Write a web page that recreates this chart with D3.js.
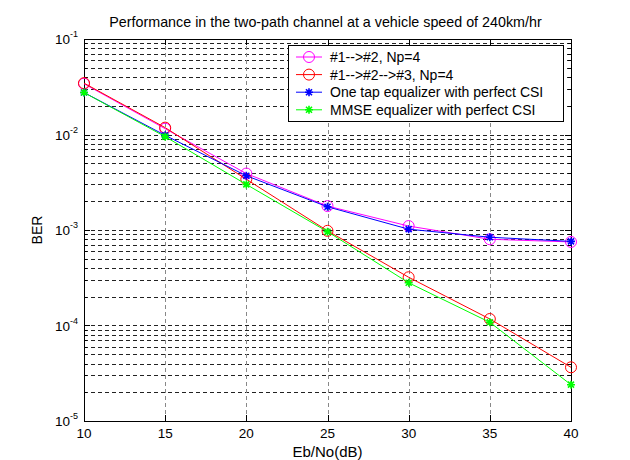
<!DOCTYPE html>
<html>
<head>
<meta charset="utf-8">
<script src="https://cdn.jsdelivr.net/npm/d3@7"></script>
<style>
  body { margin: 0; background: #fff; }
  text { font-family: "Liberation Sans", Arial, sans-serif; fill: #000; }
</style>
</head>
<body>
<div id="chart"></div>
<script>
// values
let ebno = [10, 15, 20, 25, 30, 35, 40];
let np4Two = [0.034, 0.0115, 0.0039, 0.00178, 0.00110, 0.00080, 0.00075];
let np4Three = [0.0345, 0.0118, 0.0034, 0.00098, 0.00032, 0.000117, 0.0000365];
let oneTap = [0.0275, 0.0098, 0.0037, 0.00175, 0.00102, 0.00084, 0.00076];
let mmse = [0.0275, 0.0095, 0.0030, 0.00096, 0.00028, 0.000108, 0.000024];
let xTicks = [10, 15, 20, 25, 30, 35, 40];
let yDecades = [-1, -2, -3, -4, -5];
let seriesNames = ["#1-->#2, Np=4", "#1-->#2-->#3, Np=4",
  "One tap equalizer with perfect CSI", "MMSE equalizer with perfect CSI"];
let seriesColors = ["#ff00ff", "#ff0000", "#0000ff", "#00ff00"];
let seriesMarkers = ["circle", "circle", "star", "star"];
let seriesData = [np4Two, np4Three, oneTap, mmse];

const W = 630, H = 460;
const pLeft = 84, pRight = 571, pTop = 39, pBottom = 421;

let svg = d3.select('#chart').append('svg')
  .attr('width', W)
  .attr('height', H);

let x = d3.scaleLinear().domain([10, 40]).range([pLeft, pRight]);
let y = d3.scaleLog().domain([1e-5, 1e-1]).range([pBottom, pTop]);

// minor + major y values
let yAll = [];
for (let e = -5; e < -1; e++) {
  for (let m = 1; m <= 9; m++) yAll.push({v: m * Math.pow(10, e), major: m == 1});
}
yAll.push({v: 1e-1, major: true});

let grid = svg.append('g');
// horizontal grid (skip frame edges)
grid.selectAll('line.hg')
  .data(yAll.filter(d => d.v > 1.5e-5 && d.v < 0.095))
  .enter().append('line')
  .attr('x1', pLeft).attr('x2', pRight)
  .attr('y1', d => Math.round(y(d.v)) + 0.5)
  .attr('y2', d => Math.round(y(d.v)) + 0.5)
  .attr('stroke', '#222')
  .attr('stroke-dasharray', '4,3');
// vertical grid
grid.selectAll('line.vg')
  .data(xTicks.slice(1, -1))
  .enter().append('line')
  .attr('x1', d => Math.round(x(d)) + 0.5)
  .attr('x2', d => Math.round(x(d)) + 0.5)
  .attr('y1', pTop).attr('y2', pBottom)
  .attr('stroke', '#888')
  .attr('stroke-dasharray', '4,3');

// ticks on all four sides, pointing in
let ticks = svg.append('g').attr('stroke', '#000');
yAll.forEach(d => {
  let len = d.major ? 6 : 3;
  let yy = Math.round(y(d.v)) + 0.5;
  ticks.append('line').attr('x1', pLeft).attr('x2', pLeft + len).attr('y1', yy).attr('y2', yy);
  ticks.append('line').attr('x1', pRight).attr('x2', pRight - len).attr('y1', yy).attr('y2', yy);
});
xTicks.forEach(v => {
  let xx = Math.round(x(v)) + 0.5;
  ticks.append('line').attr('x1', xx).attr('x2', xx).attr('y1', pBottom).attr('y2', pBottom - 6);
  ticks.append('line').attr('x1', xx).attr('x2', xx).attr('y1', pTop).attr('y2', pTop + 6);
});

// frame
svg.append('rect')
  .attr('x', pLeft + 0.5).attr('y', pTop + 0.5)
  .attr('width', pRight - pLeft).attr('height', pBottom - pTop)
  .attr('fill', 'none')
  .attr('stroke', '#000');

// x tick labels
svg.selectAll('text.xt')
  .data(xTicks)
  .enter().append('text')
  .attr('x', d => x(d))
  .attr('y', pBottom + 17)
  .attr('text-anchor', 'middle')
  .attr('font-size', 13.5)
  .text(d => d);

// y tick labels 10^e
yDecades.forEach(e => {
  let t = svg.append('text')
    .attr('x', pLeft - 6)
    .attr('y', y(Math.pow(10, e)) + 5)
    .attr('text-anchor', 'end')
    .attr('font-size', 13.5);
  t.append('tspan').text('10');
  t.append('tspan').attr('dy', -7).attr('font-size', 9).text(e);
});

// axis labels + title
svg.append('text')
  .attr('x', (pLeft + pRight) / 2)
  .attr('y', 457)
  .attr('text-anchor', 'middle')
  .attr('font-size', 15)
  .text('Eb/No(dB)');
svg.append('text')
  .attr('transform', 'translate(42,' + (pTop + pBottom) / 2 + ') rotate(-90)')
  .attr('text-anchor', 'middle')
  .attr('font-size', 14)
  .text('BER');
svg.append('text')
  .attr('x', (pLeft + pRight) / 2 - 2)
  .attr('y', 27)
  .attr('text-anchor', 'middle')
  .attr('font-size', 14.3)
  .text('Performance in the two-path channel at a vehicle speed of 240km/hr');

function drawMarker(g, kind, color, cx, cy) {
  if (kind == 'circle') {
    g.append('circle')
      .attr('cx', cx).attr('cy', cy).attr('r', 5.5)
      .attr('fill', 'none')
      .attr('stroke', color)
      .attr('stroke-width', 1);
  } else {
    let s = 4;
    g.append('path')
      .attr('d', 'M' + (cx - s) + ',' + cy + 'L' + (cx + s) + ',' + cy +
        'M' + cx + ',' + (cy - s) + 'L' + cx + ',' + (cy + s) +
        'M' + (cx - 3) + ',' + (cy - 3) + 'L' + (cx + 3) + ',' + (cy + 3) +
        'M' + (cx - 3) + ',' + (cy + 3) + 'L' + (cx + 3) + ',' + (cy - 3))
      .attr('stroke', color)
      .attr('stroke-width', 1.6)
      .attr('fill', 'none');
  }
}

let line = d3.line()
  .x(d => x(d[0]))
  .y(d => y(d[1]));

seriesData.forEach((vals, i) => {
  let pts = ebno.map((e, k) => [e, vals[k]]);
  let g = svg.append('g');
  g.append('path')
    .datum(pts)
    .attr('d', line)
    .attr('fill', 'none')
    .attr('stroke', seriesColors[i])
    .attr('stroke-width', 1);
  pts.forEach(p => drawMarker(g, seriesMarkers[i], seriesColors[i], x(p[0]), y(p[1])));
});

// legend
let lg = svg.append('g');
lg.append('rect')
  .attr('x', 288.5).attr('y', 45.5)
  .attr('width', 275).attr('height', 76)
  .attr('fill', '#fff')
  .attr('stroke', '#000');
seriesNames.forEach((name, i) => {
  let ly = 57 + i * 17.6;
  lg.append('line')
    .attr('x1', 296).attr('x2', 322)
    .attr('y1', ly).attr('y2', ly)
    .attr('stroke', seriesColors[i]);
  drawMarker(lg, seriesMarkers[i], seriesColors[i], 309, ly);
  lg.append('text')
    .attr('x', 330)
    .attr('y', ly + 5)
    .attr('font-size', 14)
    .text(name);
});
</script>
</body>
</html>
